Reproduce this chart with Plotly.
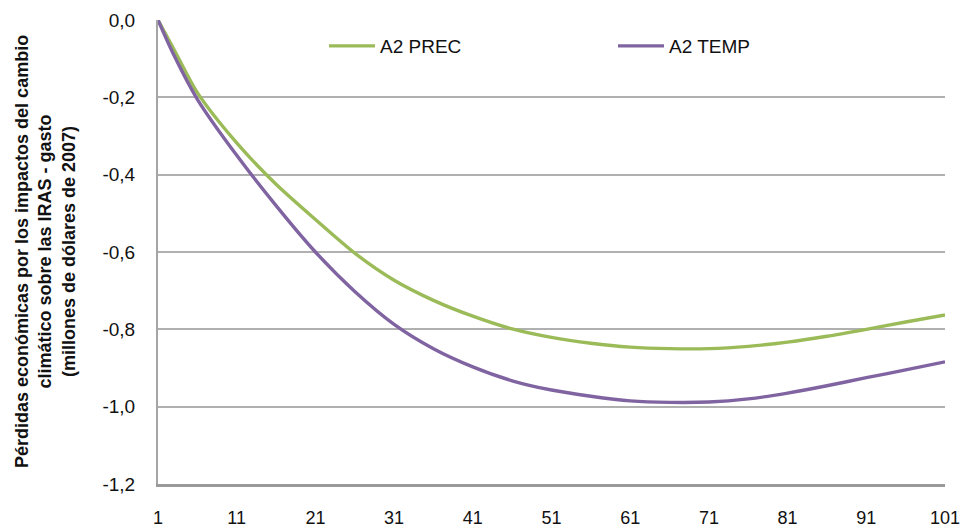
import plotly.graph_objects as go

x_vals = [1, 3, 6, 11, 16, 21, 26, 31, 36, 41, 46, 51, 56, 61, 66, 71, 76, 81, 86, 91, 96, 101]
prec = [0.0, -0.075, -0.188, -0.318, -0.425, -0.516, -0.603, -0.673, -0.725, -0.766, -0.799,
        -0.821, -0.836, -0.846, -0.850, -0.850, -0.844, -0.833, -0.818, -0.800, -0.781, -0.763]
temp = [0.0, -0.09, -0.205, -0.35, -0.48, -0.60, -0.702, -0.787, -0.85, -0.897, -0.933,
        -0.957, -0.973, -0.985, -0.989, -0.988, -0.980, -0.965, -0.946, -0.925, -0.905, -0.884]
x_ticks = [1, 11, 21, 31, 41, 51, 61, 71, 81, 91, 101]
y_ticks = [0.0, -0.2, -0.4, -0.6, -0.8, -1.0, -1.2]
y_tick_labels = ["0,0", "-0,2", "-0,4", "-0,6", "-0,8", "-1,0", "-1,2"]
title_lines = ["Pérdidas económicas por los impactos del cambio",
               "climático sobre las IRAS - gasto",
               "(millones de dólares de 2007)"]

W, H = 963, 529
L, R, T, B = 158, 18, 20, 45
PW, PH = W - L - R, H - T - B

fig = go.Figure()
fig.add_trace(go.Scatter(x=x_vals, y=prec, mode="lines", name="A2 PREC",
                         line=dict(color="#9BBB59", width=3.4, shape="spline", smoothing=0.8)))
fig.add_trace(go.Scatter(x=x_vals, y=temp, mode="lines", name="A2 TEMP",
                         line=dict(color="#8064A2", width=3.4, shape="spline", smoothing=0.8)))

fig.update_layout(
    width=W, height=H,
    margin=dict(l=L, r=R, t=T, b=B, pad=0, autoexpand=False),
    paper_bgcolor="white", plot_bgcolor="white",
    font=dict(family="Liberation Sans, Arial, sans-serif", size=19, color="#111"),
    showlegend=True,
    legend=dict(orientation="h", x=(324 - L) / PW, xanchor="left",
                y=1 - (46 - T) / PH, yanchor="middle",
                font=dict(size=19), entrywidth=228, itemwidth=46,
                bgcolor="rgba(0,0,0,0)"),
    xaxis=dict(range=[1, 101], tickvals=x_ticks, showgrid=False, zeroline=False,
               showline=True, linecolor="#9a9a9a", linewidth=3, ticks="",
               automargin=False, ticklabelstandoff=15, tickfont=dict(size=18)),
    yaxis=dict(range=[-1.2, 0], tickvals=y_ticks, ticktext=y_tick_labels, showgrid=True,
               gridcolor="#b0b0b0", gridwidth=1.5, zeroline=False,
               showline=True, linecolor="#a5a5a5", linewidth=2, ticks="",
               automargin=False, ticklabelstandoff=17, tickfont=dict(size=19)),
)

fig.add_annotation(text="<br>".join("<b>" + t + "</b>" for t in title_lines),
                   xref="paper", yref="paper",
                   x=(45 - L) / PW, y=0.5, xanchor="center", yanchor="middle",
                   textangle=-90, showarrow=False,
                   font=dict(size=18, color="#111", family="Liberation Sans, Arial, sans-serif"))

fig.write_html("out.html", config={"displayModeBar": False},
               post_script="document.body.style.margin='0px';")
